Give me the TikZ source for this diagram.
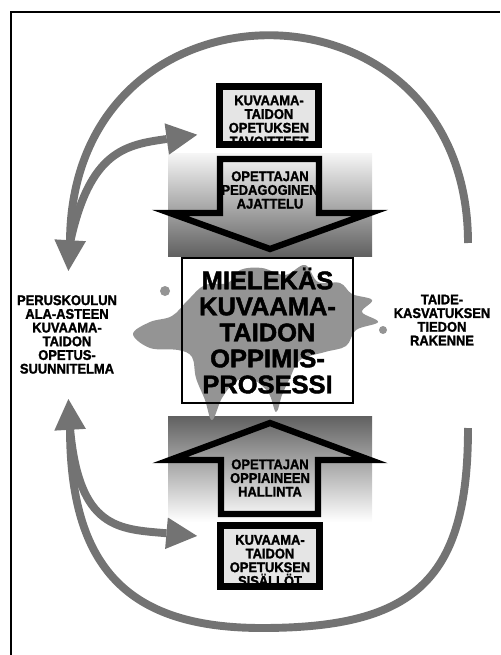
\documentclass[tikz,border=0pt]{standalone}
\usepackage{fontspec}
\setmainfont{Liberation Sans}
\newfontfamily\lblfont{Liberation Sans}[FakeStretch=0.92, FakeBold=1.6]
\newfontfamily\corefont{Liberation Sans}[FakeBold=1.8]
\usetikzlibrary{arrows.meta}

\colorlet{arcgray}{black!55}
\colorlet{splashgray}{black!42}

\begin{document}
\begin{tikzpicture}[x=0.02cm, y=-0.02cm,
    txt/.style={font=\lblfont\bfseries\fontsize{8}{7.8}\selectfont, align=center, inner sep=0pt},
    bigtxt/.style={font=\corefont\bfseries\fontsize{14.5}{14.8}\selectfont, align=center},
    boxline/.style={line width=3.6pt, line join=miter},
    smallbox/.style={fill=black!10, inner sep=0pt, outer sep=0pt, minimum width=1.98cm},
    bigarc/.style={draw=arcgray, line width=4.5pt,
                   -{Triangle[width=18pt, length=17.5pt, line width=0pt]}},
    ]
    \useasboundingbox (0,0) rectangle (500,655);

    % frame
    \draw[line width=0.9pt] (11,655) -- (11,12) -- (500,12);

    % grey grounds behind the big arrows
    \shade[top color=black!4, bottom color=black!62] (168,154) rectangle (372,256);
    \shade[top color=black!62, bottom color=white] (168,416) rectangle (372,522);

    % paint splash
    \fill[splashgray] plot[smooth cycle, tension=0.6] coordinates {
        (262,268) (285,275) (305,265) (318,282) (340,283) (352,294) (372,300)
        (362,312) (378,322) (356,330) (346,346) (325,352) (300,360) (290,378)
        (282,395) (276,412) (268,392) (250,378) (235,382) (222,398) (212,420)
        (205,400) (196,378) (192,357) (178,350) (150,348) (133,334) (150,322)
        (172,316) (188,300) (205,285) (228,283) (240,270)};
    \fill[splashgray] (165,291) circle[radius=5];
    \fill[splashgray] (383,330) circle[radius=4];

    % big arrows
    \draw[boxline] (220,159) -- (319,159) -- (319,213) -- (370,213) -- (270,249)
        -- (170,213) -- (220,213) -- cycle;
    \node[txt] (ajattelu) at (270,190) {OPETTAJAN\\PEDAGOGINEN\\AJATTELU};

    \draw[boxline] (221,514) -- (318,514) -- (318,460) -- (370,460) -- (270,423)
        -- (170,460) -- (221,460) -- cycle;
    \node[txt] (hallinta) at (270,478) {OPETTAJAN\\OPPIAINEEN\\HALLINTA};

    % small boxes
    \node[smallbox, minimum height=1.16cm] (goal) at (269,115.5) {};
    \node[txt] (goaltxt) at (269,121) {KUVAAMA-\\TAIDON\\OPETUKSEN\\TAVOITTEET};
    \draw[boxline] (goal.south west) rectangle (goal.north east);

    \node[smallbox, minimum height=1.22cm] (cont) at (270,556) {};
    \node[txt] (conttxt) at (270,560.5) {KUVAAMA-\\TAIDON\\OPETUKSEN\\SIS\"ALL\"OT};
    \draw[boxline] (cont.south west) rectangle (cont.north east);

    % centre
    \node[bigtxt, draw, line width=0.8pt, minimum width=3.42cm, minimum height=2.9cm]
        (core) at (267.5,330.5) {MIELEK\"AS\\KUVAAMA-\\TAIDON\\OPPIMIS-\\PROSESSI};

    % side labels
    \node[txt] (opsu) at (67,334.5)
        {PERUSKOULUN\\ALA-ASTEEN\\KUVAAMA-\\TAIDON\\OPETUS-\\SUUNNITELMA};
    \node[txt] (tiedon) at (442,320) {TAIDE-\\KASVATUKSEN\\TIEDON\\RAKENNE};

    % arcs
    \coordinate (rtop) at (468,243);
    \coordinate (ltop) at (70,243);
    \coordinate (rbot) at (468,428);
    \coordinate (bmid) at (262,628);
    \coordinate (lbot) at (70,428);

    \draw[bigarc, shorten >=0.45cm] (ltop) to[out=78, in=188, looseness=1.3] (goal.198);
    \draw[bigarc, shorten >=0.47cm] (lbot) to[out=-85, in=175, looseness=1.4] (cont.160);
    \draw[bigarc, shorten >=0.48cm] (rtop) .. controls +(0,-277) and +(0,-277) .. (ltop)
        -- (opsu.north);
    \draw[bigarc, shorten >=0.5cm] (rbot) .. controls +(0,150) and +(155,0) .. (bmid)
        .. controls +(-134,0) and +(0,140) .. (lbot) -- (opsu.south);

\end{tikzpicture}
\end{document}
